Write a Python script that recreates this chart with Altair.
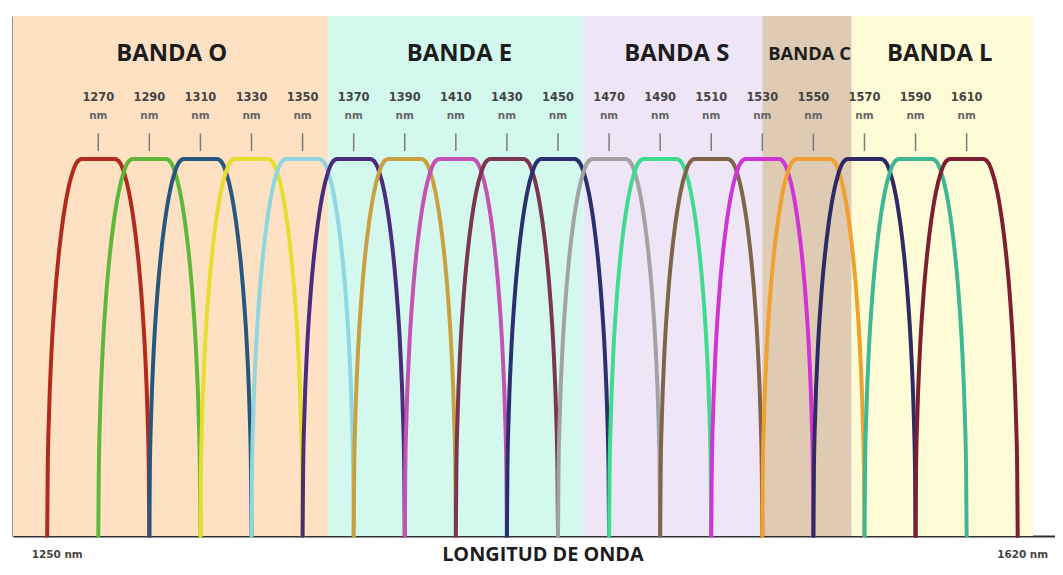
import altair as alt
import pandas as pd

# ---- data ----
channels = [1270, 1290, 1310, 1330, 1350, 1370, 1390, 1410, 1430,
            1450, 1470, 1490, 1510, 1530, 1550, 1570, 1590, 1610]
channel_colors = ["#b22a1e", "#5db83a", "#27577f", "#e6de2c", "#8fd6e0",
                  "#4a2c7c", "#c9a040", "#c452b4", "#7a3550", "#2b2f70",
                  "#a2a2a2", "#3ddc8f", "#80644a", "#d034d4", "#f0a030",
                  "#2d2a66", "#3cb894", "#7d1f30"]

# filter profile: offset from centre (nm) and relative height
profile_offset = [-20.0, -19.8, -19.3, -18.3, -17.0, -15.5, -14.0, -12.0, -10.0, -8.5, -6.5,
                  6.5, 8.5, 10.0, 12.0, 14.0, 15.5, 17.0, 18.3, 19.3, 19.8, 20.0]
profile_height = [0.0, 0.17, 0.32, 0.49, 0.63, 0.745, 0.83, 0.913, 0.966, 0.99, 1.0,
                  1.0, 0.99, 0.966, 0.913, 0.83, 0.745, 0.63, 0.49, 0.32, 0.17, 0.0]

band_names = ["BANDA O", "BANDA E", "BANDA S", "BANDA C", "BANDA L"]
band_start = [1236.6, 1360, 1460, 1530, 1565]
band_end = [1360, 1460, 1530, 1565, 1636]
band_colors = ["#fde1c2", "#d3f8ee", "#eee5f7", "#dfcbb3", "#fefcd7"]
band_label_x = [1298.8, 1411.4, 1496.5, 1548.5, 1599.5]
band_label_size = [24, 24, 24, 18.5, 24]

axis_labels = ["1250 nm", "1620 nm"]
axis_label_x = [1244.0, 1622.0]
axis_title = "LONGITUD DE ONDA"
axis_title_x = 1444.1

# ---- tables ----
curve_rows = []
for c in channels:
    for i, (d, h) in enumerate(zip(profile_offset, profile_height)):
        curve_rows.append({"wl": c + d, "h": h, "ch": str(c), "i": i})
curves = pd.DataFrame(curve_rows)

bands = pd.DataFrame({"name": band_names, "start": band_start, "end": band_end,
                      "color": band_colors, "lx": band_label_x, "fs": band_label_size})
chan = pd.DataFrame({"wl": channels, "num": [str(c) for c in channels], "unit": ["nm"] * len(channels)})
axlab = pd.DataFrame({"wl": axis_label_x, "txt": axis_labels})
ttl = pd.DataFrame({"wl": [axis_title_x], "txt": [axis_title]})

xs = alt.Scale(domain=[1236.6, 1644.6], nice=False, zero=False)
ys = alt.Scale(domain=[0, 1.379], nice=False, zero=False)

band_rect = alt.Chart(bands).mark_rect().encode(
    x=alt.X("start:Q", scale=xs, title=None),
    x2="end:Q",
    color=alt.Color("color:N", scale=None),
)

band_text = alt.Chart(bands).mark_text(font="Open Sans", fontWeight="bold", color="#1c1c1c",
                                       baseline="middle").encode(
    x=alt.X("lx:Q", scale=xs, title=None),
    y=alt.datum(1.279, scale=ys),
    text="name:N",
    size=alt.Size("fs:Q", scale=None),
)

tick_rules = alt.Chart(chan).mark_rule(color="#7a7a7a", strokeWidth=1.5).encode(
    x=alt.X("wl:Q", scale=xs, title=None),
    y=alt.datum(1.021, scale=ys),
    y2=alt.datum(1.068),
)

tick_num = alt.Chart(chan).mark_text(font="DejaVu Sans", fontWeight="bold", fontSize=11.5,
                                     color="#444444", baseline="middle").encode(
    x=alt.X("wl:Q", scale=xs, title=None),
    y=alt.datum(1.161, scale=ys),
    text="num:N",
)
tick_unit = alt.Chart(chan).mark_text(font="DejaVu Sans", fontWeight="bold", fontSize=10.5,
                                      color="#666666", baseline="middle").encode(
    x=alt.X("wl:Q", scale=xs, title=None),
    y=alt.datum(1.113, scale=ys),
    text="unit:N",
)

lines = alt.Chart(curves).mark_line(interpolate="monotone", strokeWidth=4,
                                    strokeCap="round", strokeJoin="round").encode(
    x=alt.X("wl:Q", scale=xs, title=None),
    y=alt.Y("h:Q", scale=ys, title=None),
    color=alt.Color("ch:N", scale=alt.Scale(domain=[str(c) for c in channels], range=channel_colors),
                    legend=None),
    order="i:Q",
)

bottom_labels = alt.Chart(axlab).mark_text(font="DejaVu Sans", fontWeight="bold", fontSize=10.5,
                                           color="#444444", align="left", baseline="middle").encode(
    x=alt.X("wl:Q", scale=xs, title=None),
    y=alt.datum(-0.05, scale=ys),
    text="txt:N",
)

title_text = alt.Chart(ttl).mark_text(font="Open Sans", fontWeight="bold", fontSize=20,
                                      color="#1c1c1c", align="center", baseline="middle").encode(
    x=alt.X("wl:Q", scale=xs, title=None),
    y=alt.datum(-0.05, scale=ys),
    text="txt:N",
)

chart = alt.layer(
    band_rect, band_text, tick_rules, tick_num, tick_unit, lines, bottom_labels, title_text
).properties(
    width=1050, height=524,
    autosize=alt.AutoSizeParams(type="none"),
    padding={"left": 5, "top": 6, "right": 0, "bottom": 29},
    background="white",
).configure_view(strokeWidth=0).configure_axis(
    labels=False, ticks=False, grid=False, domain=True,
    domainColor="#333333", domainWidth=2, zindex=1,
)

chart.save("out.html", embed_options={"renderer": "svg", "actions": False})
